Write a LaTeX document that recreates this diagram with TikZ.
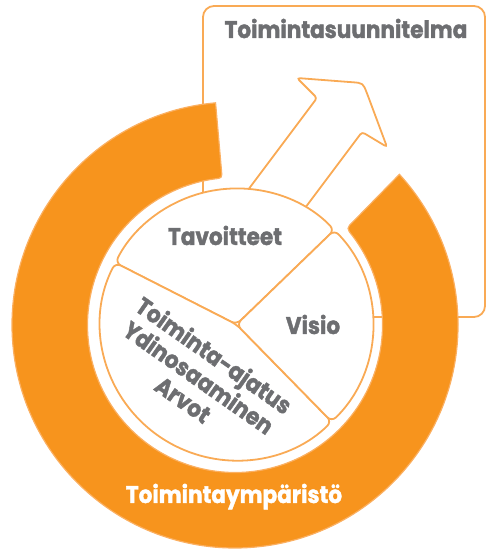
\documentclass[tikz,border=0pt]{standalone}
\usepackage{fontspec}
\setmainfont{Poppins}[FakeStretch=0.9, BoldFeatures={FakeBold=1.5}]
\usetikzlibrary{calc}
\definecolor{ringfill}{HTML}{F7941D}
\definecolor{ringline}{HTML}{FBB062}
\definecolor{lineor}{HTML}{F9AA55}
\definecolor{txt}{HTML}{6D6E71}
\begin{document}
\begin{tikzpicture}[x=1pt,y=1pt,
  ol/.style={draw=lineor, line width=1.8pt},
  lbl/.style={font=\bfseries\fontsize{24}{27}\selectfont, text=txt, inner sep=0pt},
]
\path[use as bounding box] (0,0) rectangle (487,551);
\coordinate (C) at (235,226);
\coordinate (P) at (236.5,226.5);
% plan box
\draw[ol, rounded corners=11pt] (203,234) rectangle (485,545);
\node[lbl, anchor=base] (plan) at (346,513) {Toimintasuunnitelma};
% orange ring
\fill[ringfill, draw=ringline, line width=1.2pt]
  ($(C)+(95:223)$) arc[start angle=95, end angle=402.5, radius=223]
  -- ($(C)+(41.2:157.5)$) .. controls ($(C)+(41:147.5)$) .. ($(C)+(37:147.5)$)
  arc[start angle=37, end angle=-261.9, radius=147.5]
  .. controls ($(C)+(-265:147.5)$) .. ($(C)+(95:155.5)$) -- cycle;
\node[lbl, text=white, anchor=base] (env) at (234,48) {Toimintaympäristö};
% arrow
\draw[ol, fill=white, rounded corners=3pt]
  (224,329) -- (317,453) -- (297,473) -- (349,469)
  .. controls (363,468) .. (368,455) -- (387,404) -- (362,419) -- (281,311);
% pie
\foreach \a/\b in {44/153, 153/314.4, -45.6/44}{
  \draw[ol, fill=white, rounded corners=6pt]
    (P) -- ($(P)+(\a:136)$) arc[start angle=\a, end angle=\b, radius=136] -- cycle;
}
\node[lbl, anchor=base] (tav) at (225,306) {Tavoitteet};
\node[lbl, anchor=base] (vis) at (313,217) {Visio};
\node[lbl, align=center, rotate=-35] (tya) at (199,174) {Toiminta-ajatus\\Ydinosaaminen\\Arvot};
\end{tikzpicture}
\end{document}
